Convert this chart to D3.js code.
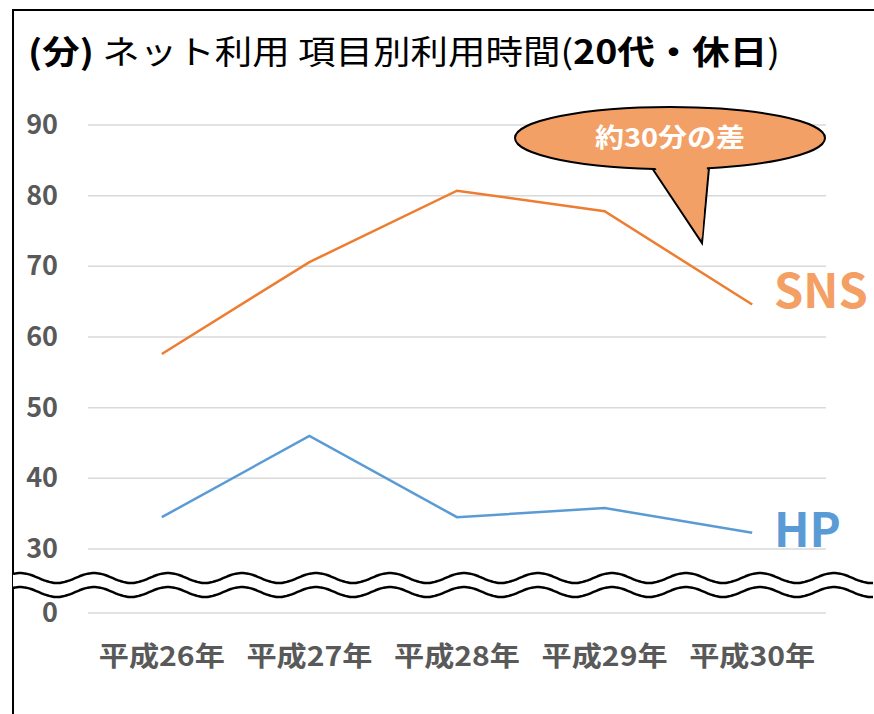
<!DOCTYPE html>
<html>
<head>
<meta charset="utf-8">
<script src="https://cdn.jsdelivr.net/npm/d3@7"></script>
<style>
  body { margin: 0; background: #fff; }
  text { font-family: "Noto Sans CJK JP", "Noto Sans", sans-serif; }
</style>
</head>
<body>
<svg id="chart"></svg>
<script>
var years = ["平成26年", "平成27年", "平成28年", "平成29年", "平成30年"];
var snsValues = [57.6, 70.6, 80.7, 77.8, 64.6];
var hpValues = [34.5, 46.0, 34.5, 35.8, 32.3];
var yTicks = [0, 30, 40, 50, 60, 70, 80, 90];

var dimensions = {
  width: 874,
  height: 714,
  margin: { top: 125, right: 48, bottom: 101, left: 88 },
};

var svg = d3
  .select("#chart")
  .attr("width", dimensions.width)
  .attr("height", dimensions.height);

// frame
svg.append("path")
  .attr("d", "M13,714 L13,10 L874,10")
  .attr("fill", "none")
  .attr("stroke", "#000")
  .attr("stroke-width", 2);

var xScale = d3
  .scalePoint()
  .domain(years)
  .range([dimensions.margin.left, dimensions.width - dimensions.margin.right])
  .padding(0.5);

// broken axis: 0 sits just below the 30 line
var yScale = d3
  .scaleLinear()
  .domain([0, 30, 90])
  .range([613, 549, 125]);

// gridlines
svg.append("g")
  .selectAll("line")
  .data(yTicks)
  .enter()
  .append("line")
  .attr("x1", dimensions.margin.left)
  .attr("x2", 826)
  .attr("y1", (d) => yScale(d))
  .attr("y2", (d) => yScale(d))
  .attr("stroke", "#d9d9d9")
  .attr("stroke-width", 1.5);

// y labels
svg.append("g")
  .selectAll("text")
  .data(yTicks)
  .enter()
  .append("text")
  .attr("x", 58)
  .attr("y", (d) => yScale(d) + 9)
  .attr("text-anchor", "end")
  .attr("font-size", 27)
  .attr("font-weight", "bold")
  .attr("fill", "#595959")
  .attr("font-family", "Noto Sans, sans-serif")
  .text((d) => d);

// x labels
svg.append("g")
  .selectAll("text")
  .data(years)
  .enter()
  .append("text")
  .attr("x", (d) => xScale(d) - 63)
  .attr("y", 666)
  .attr("font-size", 27)
  .attr("font-weight", "bold")
  .attr("fill", "#595959")
  .attr("textLength", 126)
  .attr("lengthAdjust", "spacingAndGlyphs")
  .text((d) => d);

var line = d3
  .line()
  .x((d, i) => xScale(years[i]))
  .y((d) => yScale(d));

svg.append("path")
  .datum(snsValues)
  .attr("d", line)
  .attr("fill", "none")
  .attr("stroke", "#ED7D31")
  .attr("stroke-width", 2.5);

svg.append("path")
  .datum(hpValues)
  .attr("d", line)
  .attr("fill", "none")
  .attr("stroke", "#5B9BD5")
  .attr("stroke-width", 2.5);

// series labels
svg.append("text")
  .attr("x", 774)
  .attr("y", 308)
  .attr("font-size", 47)
  .attr("font-weight", "bold")
  .attr("fill", "#F4A064")
  .attr("font-family", "Noto Sans, sans-serif")
  .text("SNS");

svg.append("text")
  .attr("x", 774)
  .attr("y", 547)
  .attr("font-size", 47)
  .attr("font-weight", "bold")
  .attr("fill", "#5B9BD5")
  .attr("font-family", "Noto Sans, sans-serif")
  .text("HP");

// wavy break marks
function wave(y0) {
  var pts = [];
  for (var x = 13; x <= 874; x += 2) {
    pts.push([x, y0 - 5 * Math.sin(((x - 20) / 74) * 2 * Math.PI + Math.PI / 2)]);
  }
  return pts;
}
var w1 = wave(578), w2 = wave(592);
svg.append("path")
  .attr("d", d3.line()(w1.concat(w2.slice().reverse())) + "Z")
  .attr("fill", "#fff")
  .attr("stroke", "none");
[w1, w2].forEach(function (w) {
  svg.append("path")
    .attr("d", d3.line().curve(d3.curveBasis)(w))
    .attr("fill", "none")
    .attr("stroke", "#000")
    .attr("stroke-width", 2.5);
});

// callout
svg.append("path")
  .attr("d", "M652,168 L702,243 L709,168")
  .attr("fill", "#F3A067")
  .attr("stroke", "#000")
  .attr("stroke-width", 2);
svg.append("ellipse")
  .attr("cx", 670)
  .attr("cy", 138)
  .attr("rx", 155)
  .attr("ry", 31)
  .attr("fill", "#F3A067")
  .attr("stroke", "#000")
  .attr("stroke-width", 2);
svg.append("path")
  .attr("d", "M654,166 L702,238 L707,166 Z")
  .attr("fill", "#F3A067");
svg.append("text")
  .attr("x", 595)
  .attr("y", 147)
  .attr("font-size", 26)
  .attr("font-weight", "bold")
  .attr("fill", "#fff")
  .attr("textLength", 150)
  .attr("lengthAdjust", "spacingAndGlyphs")
  .text("約30分の差");

// title
var title = svg.append("text")
  .attr("x", 28)
  .attr("y", 64)
  .attr("font-size", 33)
  .attr("fill", "#000")
  .attr("textLength", 752)
  .attr("lengthAdjust", "spacingAndGlyphs");
title.append("tspan").attr("font-weight", "bold").text("(分)");
title.append("tspan").text("  ネット利用 項目別利用時間(");
title.append("tspan").attr("font-weight", "bold").text("20代・休日");
title.append("tspan").text(")");
</script>
</body>
</html>
